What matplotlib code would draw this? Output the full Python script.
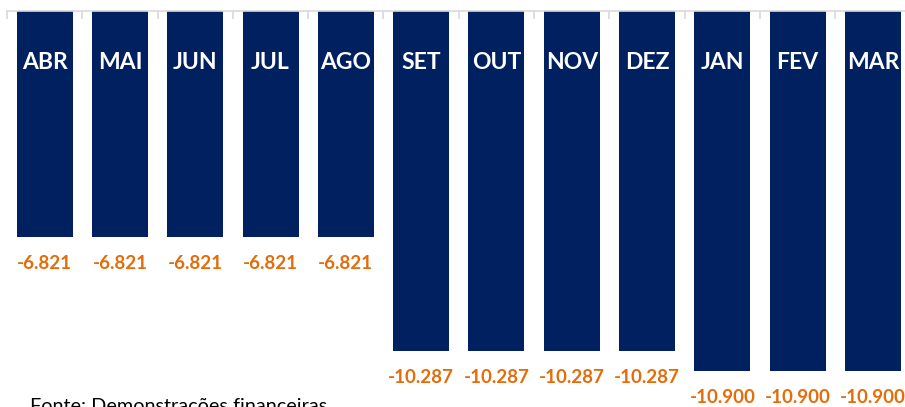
import matplotlib.pyplot as plt
import numpy as np

meses = ['ABR', 'MAI', 'JUN', 'JUL', 'AGO', 'SET', 'OUT', 'NOV', 'DEZ', 'JAN', 'FEV', 'MAR']
valores = [-6.821, -6.821, -6.821, -6.821, -6.821, -10.287, -10.287, -10.287, -10.287, -10.900, -10.900, -10.900]
rotulos = ['-6.821', '-6.821', '-6.821', '-6.821', '-6.821', '-10.287', '-10.287', '-10.287', '-10.287',
           '-10.900', '-10.900', '-10.900']

azul = '#002060'
laranja = '#E46C0A'
cinza = '#D9D9D9'

plt.rcParams['font.family'] = ['Lato', 'DejaVu Sans']

fig = plt.figure(figsize=(9.05, 4.07), dpi=100)
ax = fig.add_axes([7 / 905, 5.8 / 407, 903.6 / 905, 390.2 / 407])

x = np.arange(len(meses))
ax.bar(x, valores, width=0.744, color=azul, zorder=2)

for xi, m, v, r in zip(x, meses, valores, rotulos):
    ax.text(xi, -1.55, m, color='white', fontsize=16.5, fontweight='bold',
            ha='center', va='center', zorder=3)
    ax.text(xi, v - 0.8, r, color=laranja, fontsize=13.5, fontweight='bold',
            ha='center', va='center', zorder=3)

ax.set_xlim(-0.5, 11.5)
ax.set_ylim(-11.8, 0)

for s in ['left', 'right', 'bottom']:
    ax.spines[s].set_visible(False)
ax.spines['top'].set_color(cinza)
ax.spines['top'].set_linewidth(1.2)

ax.xaxis.set_ticks_position('top')
ax.set_xticks(np.arange(-0.5, 12, 1))
ax.set_xticklabels([])
ax.tick_params(axis='x', direction='in', length=6, color=cinza, width=1.2)
ax.set_yticks([])

fig.text(30 / 905, -5 / 407, 'Fonte: Demonstrações financeiras', fontsize=14.3,
         color='black', ha='left', va='baseline')

fig.savefig('out.png', dpi=100)
